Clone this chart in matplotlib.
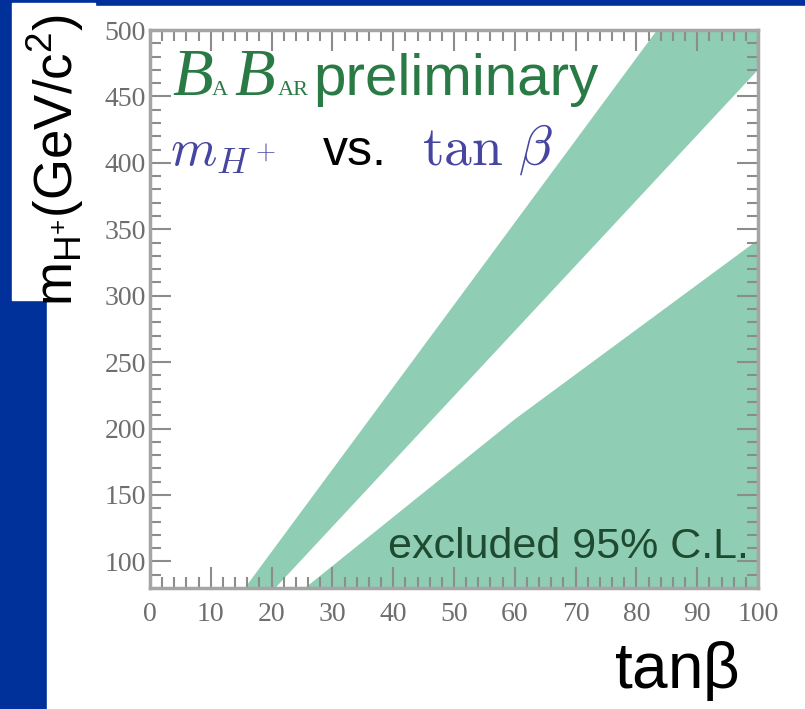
import matplotlib.pyplot as plt
import matplotlib.patches as mpatches
import numpy as np

# excluded bands (tan beta vs m_H+ in GeV/c^2)
upper_left_tanb = [15.6, 83.4]
upper_left_m = [80, 500]
upper_right_tanb = [20.6, 100]
upper_right_m = [80, 470]
lower_edge_tanb = [25.5, 60, 100]
lower_edge_m = [80, 207, 342]

xticks = np.arange(0, 101, 10)
yticks = np.arange(100, 501, 50)
xlim = (0, 100)
ylim = (80, 500)

W, H = 805, 709
blue = '#00309a'
band = '#8fcdb4'


def px(x, y):
    # pixel position (from top-left) -> figure coords
    return x / W, 1 - y / H


fig = plt.figure(figsize=(W / 100, H / 100), dpi=100, facecolor=blue)

# white slide panels (behind the axes)
fig.patches.append(mpatches.Rectangle(px(47, 709), (W - 47) / W, (709 - 6) / H,
                                      transform=fig.transFigure, color='white', zorder=-2))
fig.patches.append(mpatches.Rectangle(px(12, 300), (95 - 12) / W, (300 - 3) / H,
                                      transform=fig.transFigure, color='white', zorder=-2))

ax = fig.add_axes([150 / W, 1 - 588 / H, (758 - 150) / W, (588 - 30) / H])
ax.set_facecolor('white')

# upper band
ux = upper_left_tanb + [xlim[1]] + upper_right_tanb[::-1]
uy = upper_left_m + [ylim[1]] + upper_right_m[::-1]
ax.fill(ux, uy, color=band, lw=0, zorder=1)
# lower band
lx = lower_edge_tanb + [xlim[1]]
ly = lower_edge_m + [ylim[0]]
ax.fill(lx, ly, color=band, lw=0, zorder=1)

ax.set_xlim(*xlim)
ax.set_ylim(*ylim)
ax.set_xticks(xticks)
ax.set_yticks(yticks)
ax.set_xticks(np.arange(0, 101, 2), minor=True)
ax.set_yticks(np.arange(80, 501, 10), minor=True)

for s in ax.spines.values():
    s.set_color('#a5a5a5')
    s.set_linewidth(2.5)
    s.set_zorder(5)

ax.tick_params(which='both', direction='in', top=True, right=True,
               color='#8c8c8c', width=1.5, zorder=5)
ax.tick_params(which='major', length=15)
ax.tick_params(which='minor', length=8)
ax.tick_params(axis='x', pad=10)
ax.tick_params(axis='y', pad=3)
for lab in ax.get_xticklabels() + ax.get_yticklabels():
    lab.set_family('Liberation Serif')
    lab.set_fontsize(20)
    lab.set_color('#6e6e6e')

# BaBar logo + preliminary
green = '#2a7a45'
fig.text(*px(172, 95), 'B', family='Liberation Serif', style='italic', fontsize=48,
         color=green, va='baseline')
fig.text(*px(212, 95), 'A', family='Liberation Serif', fontsize=16, color=green, va='baseline')
fig.text(*px(234, 95), 'B', family='Liberation Serif', style='italic', fontsize=48,
         color=green, va='baseline')
fig.text(*px(278, 95), 'AR', family='Liberation Serif', fontsize=16, color=green, va='baseline')
fig.text(*px(313, 95), 'preliminary', family='Liberation Sans', fontsize=42,
         color=green, va='baseline')

vblue = '#4646a0'
fig.text(*px(170, 165), r'$m_{H^+}$', math_fontfamily='cm', fontsize=38, color=vblue,
         va='baseline')
fig.text(*px(323, 165), 'vs.', family='Liberation Sans', fontsize=36, color='black',
         va='baseline')
fig.text(*px(422, 165), r'$\tan\,\beta$', math_fontfamily='cm', fontsize=40, color=vblue,
         va='baseline')

fig.text(*px(388, 558), 'excluded 95% C.L.', family='Liberation Sans', fontsize=31,
         color='#1e4a30', va='baseline', zorder=6)

# axis titles
fig.text(*px(614, 688), r'tan$\mathregular{\beta}$', family='Liberation Sans', fontsize=46,
         color='black', va='baseline')
fig.text(*px(55, 160), r'm$_{\mathregular{H^{+}}}$(GeV/c$^{\mathregular{2}}$)',
         family='Liberation Sans', fontsize=38, color='black', rotation=90,
         ha='center', va='center')

fig.savefig('out.png', dpi=100, facecolor=fig.get_facecolor())
